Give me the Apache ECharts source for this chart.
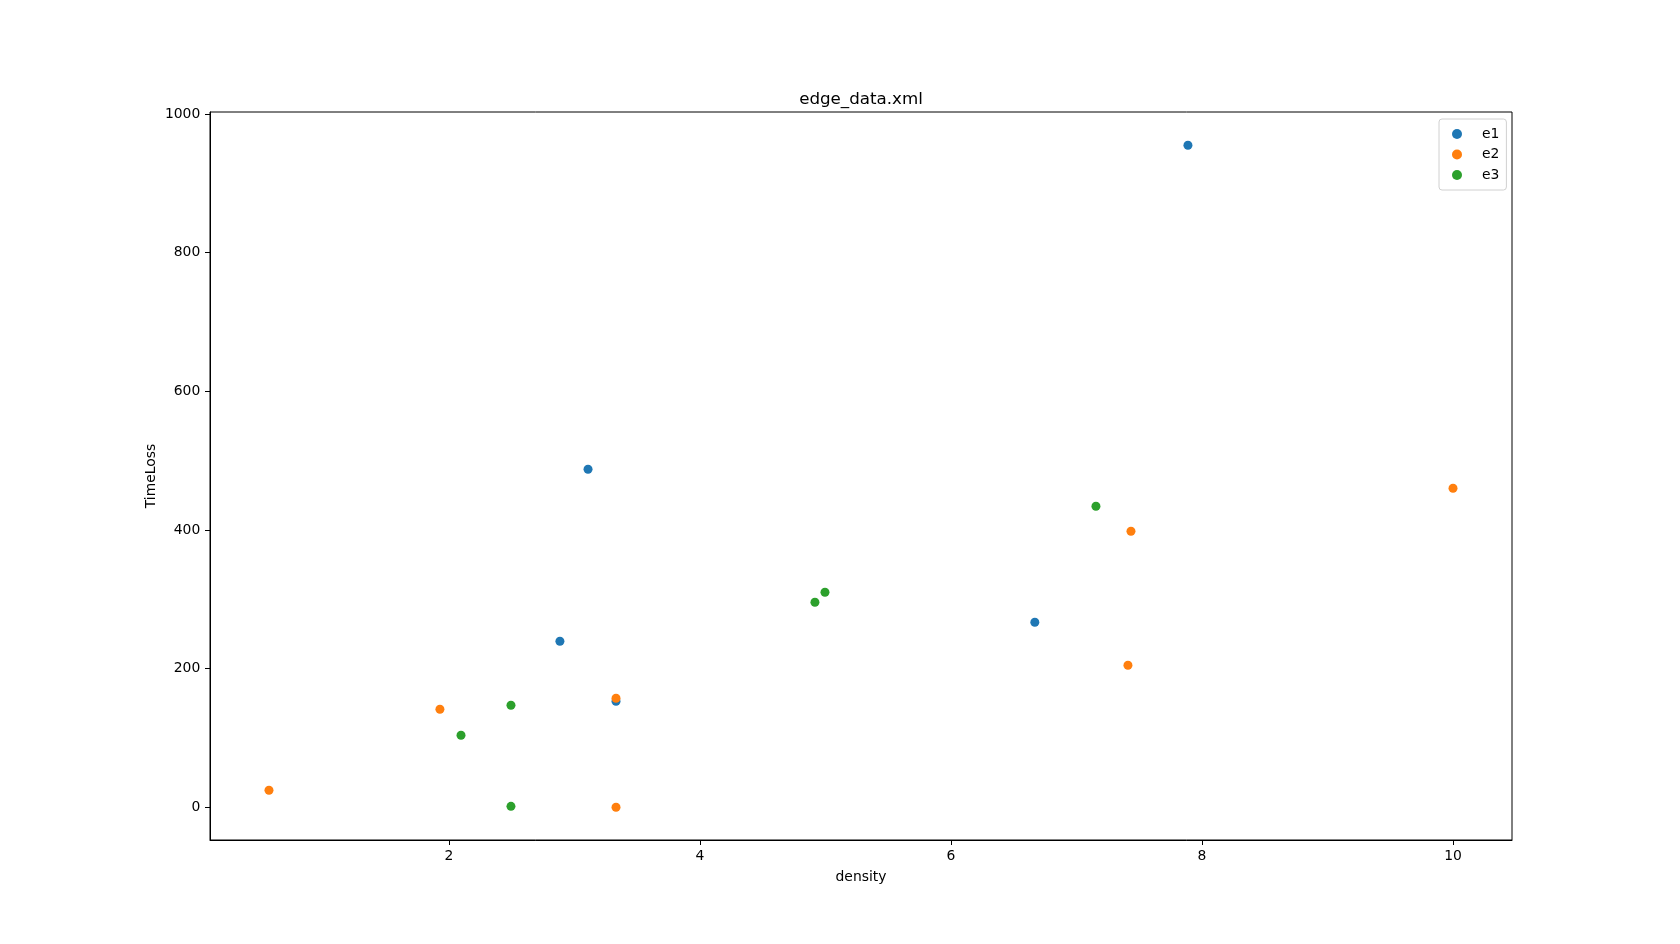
<!DOCTYPE html>
<html>
<head>
<meta charset="utf-8">
<script src="https://cdn.jsdelivr.net/npm/echarts@6/dist/echarts.min.js"></script>
<style>
html,body{margin:0;padding:0;background:#fff;}
#chart{width:1680px;height:944px;}
</style>
</head>
<body>
<div id="chart"></div>
<script>
var titleText = 'edge_data.xml';
var xName = 'density';
var yName = 'TimeLoss';
var seriesNames = ['e1', 'e2', 'e3'];
var seriesColors = ['#1f77b4', '#ff7f0e', '#2ca02c'];
var e1 = [[7.888, 955.0], [3.108, 487.6], [2.884, 239.5], [3.331, 152.9], [6.668, 266.9]];
var e2 = [[0.566, 24.5], [1.928, 141.4], [3.331, 157.2], [3.331, 0.0], [7.434, 398.2], [7.410, 204.8], [10.0, 460.2]];
var e3 = [[2.096, 103.9], [2.494, 147.1], [2.494, 1.4], [4.916, 295.7], [4.996, 310.2], [7.155, 434.2]];
var xTicks = [2, 4, 6, 8, 10];
var yTicks = [0, 200, 400, 600, 800, 1000];
var xRange = [0.096, 10.47];
var yRange = [-47.2, 1002.9];

var font = 'DejaVu Sans';
var chart = echarts.init(document.getElementById('chart'), null, {renderer: 'canvas'});
var allData = [e1, e2, e3];
var option = {
  animation: false,
  backgroundColor: '#fff',
  title: {
    text: titleText,
    left: 861, textAlign: 'center',
    top: 91, padding: 0,
    textStyle: {fontFamily: font, fontSize: 16.7, fontWeight: 'normal', color: '#000'}
  },
  legend: {
    orient: 'vertical',
    left: 1439, top: 119,
    padding: [8, 7, 8, 13],
    itemWidth: 10, itemHeight: 10, itemGap: 6.5,
    icon: 'circle',
    borderColor: '#d0d0d0', borderWidth: 1, borderRadius: 3,
    backgroundColor: 'rgba(255,255,255,0.8)',
    textStyle: {fontFamily: font, fontSize: 13.9, color: '#000', padding: [0, 0, 0, 15]},
    data: seriesNames
  },
  grid: {
    left: 210, right: 168, top: 112, bottom: 104,
    show: true, borderColor: '#000', borderWidth: 1, backgroundColor: 'transparent'
  },
  xAxis: {
    type: 'value', min: xRange[0], max: xRange[1],
    name: xName, nameLocation: 'middle', nameGap: 30, nameMoveOverlap: false,
    nameTextStyle: {fontFamily: font, fontSize: 13.9, color: '#000'},
    axisLine: {show: true, onZero: false, lineStyle: {color: '#000', width: 1}},
    axisTick: {show: true, length: 5, lineStyle: {color: '#000'}, customValues: xTicks},
    axisLabel: {fontFamily: font, fontSize: 13.9, color: '#000', margin: 9.7, customValues: xTicks,
      formatter: function (v) { return String(v); }},
    splitLine: {show: false}
  },
  yAxis: {
    type: 'value', min: yRange[0], max: yRange[1],
    name: yName, nameLocation: 'middle', nameGap: 52, nameRotate: 90, nameMoveOverlap: false,
    nameTextStyle: {fontFamily: font, fontSize: 13.9, color: '#000'},
    axisLine: {show: true, onZero: false, lineStyle: {color: '#000', width: 1}},
    axisTick: {show: true, length: 5, lineStyle: {color: '#000'}, customValues: yTicks},
    axisLabel: {fontFamily: font, fontSize: 13.9, color: '#000', margin: 9.7, customValues: yTicks,
      formatter: function (v) { return String(v); }},
    splitLine: {show: false}
  },
  series: seriesNames.map(function (n, i) {
    return {
      name: n, type: 'scatter', data: allData[i],
      symbol: 'circle', symbolSize: 9,
      itemStyle: {color: seriesColors[i], opacity: 1},
      emphasis: {disabled: true}
    };
  })
};
chart.setOption(option);
</script>
</body>
</html>
